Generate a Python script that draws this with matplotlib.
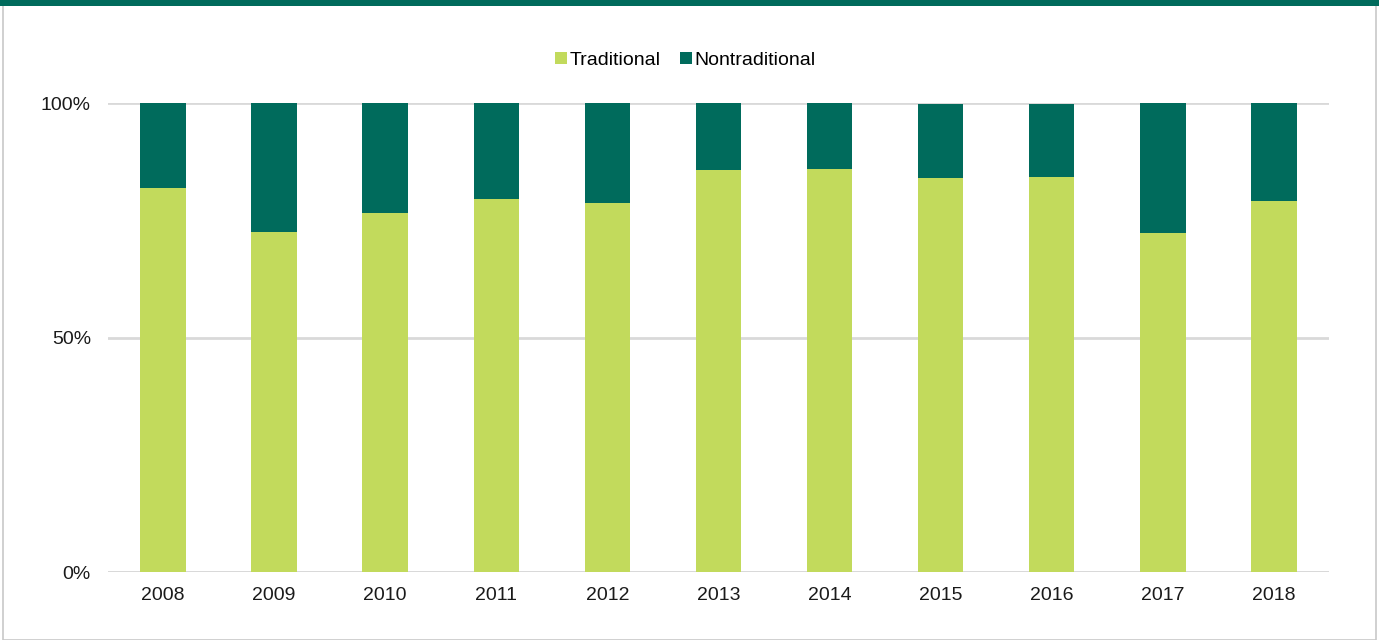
import numpy as np
import matplotlib.pyplot as plt
from matplotlib.patches import Rectangle
from matplotlib.ticker import FuncFormatter

plt.rcParams['font.family'] = ['Liberation Sans', 'DejaVu Sans']

# Data (share of total, %)
years = ['2008', '2009', '2010', '2011', '2012', '2013', '2014', '2015', '2016', '2017', '2018']
traditional = [81.9, 72.5, 76.5, 79.5, 78.7, 85.7, 85.9, 84.0, 84.2, 72.3, 79.1]
nontraditional = [18.1, 27.5, 23.5, 20.5, 21.3, 14.3, 14.1, 15.7, 15.5, 27.7, 20.9]

light_green = '#C2DA5C'
dark_green = '#006B5C'

fig = plt.figure(figsize=(13.79, 6.4), dpi=100)
ax = fig.add_axes([0.078, 0.106, 0.886, 0.733])

x = np.arange(len(years))
ax.bar(x, traditional, width=0.41, color=light_green, label='Traditional', zorder=3)
ax.bar(x, nontraditional, width=0.41, bottom=traditional, color=dark_green, label='Nontraditional', zorder=3)

ax.set_xlim(-0.5, len(years) - 0.5)
ax.set_ylim(0, 100)
ax.set_yticks([0, 50, 100])
ax.yaxis.set_major_formatter(FuncFormatter(lambda v, p: '%d%%' % v))
ax.set_xticks(x)
ax.set_xticklabels(years)
ax.tick_params(axis='both', length=0, labelsize=14, colors='#1a1a1a')
ax.tick_params(axis='x', pad=11)
ax.tick_params(axis='y', pad=12)
ax.grid(axis='y', color='#d9d9d9', linewidth=2, zorder=0)
ax.set_axisbelow(True)
for s in ax.spines.values():
    s.set_visible(False)
ax.axhline(0, color='#d9d9d9', linewidth=2, zorder=2)

ax.legend(loc='lower center', bbox_to_anchor=(0.473, 1.035), ncol=2, frameon=False,
          fontsize=14, handlelength=0.6, handleheight=0.6, handletextpad=0.15,
          columnspacing=1.0)

# frame and top strip
fig.patches.append(Rectangle((0.0025, 0.0), 0.995, 1.0, transform=fig.transFigure,
                             fill=False, edgecolor='#c8c8c8', linewidth=1.2))
fig.patches.append(Rectangle((0, 0.991), 1, 0.009, transform=fig.transFigure,
                             color=dark_green, linewidth=0))

fig.savefig('out.png', dpi=100)
